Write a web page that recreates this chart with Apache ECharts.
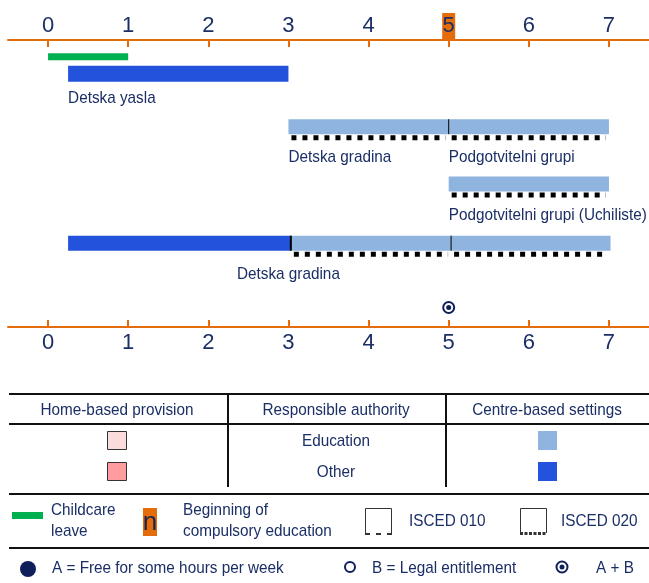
<!DOCTYPE html>
<html>
<head>
<meta charset="utf-8">
<script src="https://cdn.jsdelivr.net/npm/echarts@6/dist/echarts.min.js"></script>
<style>
  html, body { margin: 0; padding: 0; background: #fff; }
  #main { width: 649px; height: 583px; }
</style>
</head>
<body>
<div id="main"></div>
<script>
// ages on the axis
var ageTicks = [0, 1, 2, 3, 4, 5, 6, 7];
var compulsoryAge = 5;
var childcareLeave = [0, 1];

// settings (bars): row, from age, to age, authority, isced level
var segRow = [1, 2, 2, 3, 4, 4, 4];
var segStart = [0.25, 3, 5, 5, 0.25, 3.03, 5.03];
var segEnd = [3, 5, 7, 7, 3.03, 5.03, 7.02];
var segAuthority = ['Other', 'Education', 'Education', 'Education', 'Other', 'Education', 'Education'];
var segIsced = ['', '020', '020', '020', '', '020', '020'];

// names under the bars
var labelRow = [1, 2, 2, 3, 4];
var labelAge = [0.25, 3, 5, 5, 3];
var labelText = ['Detska yasla', 'Detska gradina', 'Podgotvitelni grupi', 'Podgotvitelni grupi (Uchiliste)', 'Detska gradina'];

// entitlement marker
var entitlementAge = [5];
var entitlementType = ['A+B'];

// layout only
var rowY = [0.29, 0.59, 1.51, 2.51, 3.54, 4.66]; // 0 = leave, 1..4 = rows, 5 = markers
var labelAlign = ['left', 'left', 'left', 'left', 'center'];

var FONT = "'Liberation Sans',Arial,sans-serif";
var NARROW = 0.9; // squeeze text, the original uses a narrow face
var NAVY = '#1b2f66';
var ORANGE = '#e46c0a';
var authColor = { Education: '#8eb4df', Other: '#2353dc' };

var myChart = echarts.init(document.getElementById('main'));

function axisLab(isTop) {
    return {
        customValues: ageTicks,
        margin: isTop ? 1 : 3,
        color: NAVY,
        fontFamily: FONT,
        fontSize: 22,
        lineHeight: 26,
        formatter: function (v) {
            return (isTop && v === compulsoryAge) ? '{c|' + v + '}' : String(v);
        },
        rich: {
            c: { backgroundColor: ORANGE, color: NAVY, fontFamily: FONT, fontSize: 22, height: 26, lineHeight: 26, width: 13, align: 'center' }
        }
    };
}

function makeAxis(pos) {
    return {
        type: 'value',
        position: pos,
        min: -0.5,
        max: 7.5,
        axisLine: { lineStyle: { color: ORANGE, width: 2 } },
        axisTick: { inside: true, length: 7, customValues: ageTicks, lineStyle: { color: ORANGE, width: 2 } },
        axisLabel: axisLab(pos === 'top'),
        splitLine: { show: false }
    };
}

var segData = segStart.map(function (s, i) { return [s, segEnd[i], rowY[segRow[i]]]; });
var labelData = labelAge.map(function (a, i) { return [a, rowY[labelRow[i]]]; });

// table + legend underneath
var g = [];
function hline(x1, x2, y, w) { g.push({ type: 'line', shape: { x1: x1, y1: y, x2: x2, y2: y }, style: { stroke: '#111', lineWidth: w || 2 } }); }
function vline(x, y1, y2) { g.push({ type: 'line', shape: { x1: x, y1: y1, x2: x, y2: y2 }, style: { stroke: '#111', lineWidth: 2 } }); }
function txt(t, x, y, align) {
    g.push({ type: 'text', x: x, y: y, scaleX: NARROW, style: { text: t, x: 0, y: 0, fill: NAVY, font: '17px ' + FONT, textAlign: align || 'left', textVerticalAlign: 'middle' } });
}
function box(x, y, w, h, fill, stroke) {
    g.push({ type: 'rect', shape: { x: x, y: y, width: w, height: h }, style: { fill: fill, stroke: stroke || null, lineWidth: 1 } });
}

hline(9, 649, 394); hline(9, 649, 424); hline(9, 649, 494); hline(9, 649, 548);
vline(228, 394, 487); vline(446, 394, 487);
txt('Home-based provision', 117, 410, 'center');
txt('Responsible authority', 336, 410, 'center');
txt('Centre-based settings', 547, 410, 'center');
txt('Education', 336, 441, 'center');
txt('Other', 336, 472, 'center');
box(107.5, 431.5, 19, 18, '#fadcdc', '#333');
box(107.5, 462.5, 19, 18, '#ff9ca0', '#333');
box(538, 431, 19, 19, authColor.Education);
box(538, 462, 19, 19, authColor.Other);

box(12, 512, 31, 7, '#00b050');
txt('Childcare', 51, 510); txt('leave', 51, 531);
box(143, 508, 14, 28, ORANGE);
g.push({ type: 'text', style: { text: 'n', x: 150, y: 523, fill: '#1a2550', font: '26px ' + FONT, textAlign: 'center', textVerticalAlign: 'middle' } });
txt('Beginning of', 183, 510); txt('compulsory education', 183, 531);
g.push({ type: 'polyline', shape: { points: [[365.5, 534], [365.5, 508.5], [391.5, 508.5], [391.5, 534]] }, style: { stroke: '#333', lineWidth: 1, fill: null } });
g.push({ type: 'line', shape: { x1: 365, y1: 534, x2: 392, y2: 534 }, style: { stroke: '#333', lineWidth: 2, lineDash: [5, 6] } });
txt('ISCED 010', 409, 521);
g.push({ type: 'polyline', shape: { points: [[520.5, 533], [520.5, 508.5], [546.5, 508.5], [546.5, 533]] }, style: { stroke: '#333', lineWidth: 1, fill: null } });
g.push({ type: 'line', shape: { x1: 520, y1: 533.5, x2: 547, y2: 533.5 }, style: { stroke: '#333', lineWidth: 3, lineDash: [3, 1.5] } });
txt('ISCED 020', 561, 521);

g.push({ type: 'circle', shape: { cx: 28, cy: 569, r: 8 }, style: { fill: '#0f1f5a' } });
txt('A = Free for some hours per week', 52, 568);
g.push({ type: 'circle', shape: { cx: 350, cy: 567, r: 5 }, style: { fill: '#fff', stroke: '#0f1f5a', lineWidth: 2 } });
txt('B = Legal entitlement', 372, 568);
g.push({ type: 'circle', shape: { cx: 562, cy: 567, r: 5.5 }, style: { fill: '#fff', stroke: '#0f1f5a', lineWidth: 2 } });
g.push({ type: 'circle', shape: { cx: 562, cy: 567, r: 2.5 }, style: { fill: '#0f1f5a' } });
txt('A + B', 596, 568);

var option = {
    animation: false,
    backgroundColor: '#fff',
    grid: { left: 8, top: 40, width: 642, height: 287 },
    xAxis: [makeAxis('top'), makeAxis('bottom')],
    yAxis: { type: 'value', inverse: true, min: 0, max: 5, show: false },
    series: [
        {
            // childcare leave
            type: 'custom',
            data: [[childcareLeave[0], childcareLeave[1], rowY[0]]],
            encode: { x: [0, 1], y: 2 },
            renderItem: function (params, api) {
                var a = api.coord([api.value(0), api.value(2)]);
                var b = api.coord([api.value(1), api.value(2)]);
                return { type: 'rect', shape: { x: a[0], y: a[1] - 3.5, width: b[0] - a[0], height: 7 }, style: { fill: '#00b050' } };
            }
        },
        {
            type: 'custom',
            data: segData,
            encode: { x: [0, 1], y: 2 },
            renderItem: function (params, api) {
                var i = params.dataIndex;
                var a = api.coord([api.value(0), api.value(2)]);
                var b = api.coord([api.value(1), api.value(2)]);
                var h = segRow[i] === 1 ? 16 : 15;
                var top = a[1] - h / 2;
                var ch = [{ type: 'rect', shape: { x: a[0], y: top, width: b[0] - a[0], height: h }, style: { fill: authColor[segAuthority[i]] } }];
                if (segIsced[i] === '020') {
                    ch.push({ type: 'line', shape: { x1: a[0] + 3, y1: top + h + 3.5, x2: b[0] - 3, y2: top + h + 3.5 }, style: { stroke: '#000', lineWidth: 5, lineDash: [5, 6] } });
                }
                if (i > 0 && segRow[i - 1] === segRow[i] && Math.abs(segEnd[i - 1] - segStart[i]) < 0.01) {
                    var w = segAuthority[i - 1] !== segAuthority[i] ? 2 : 1;
                    ch.push({ type: 'line', shape: { x1: a[0], y1: top, x2: a[0], y2: top + h }, style: { stroke: '#000', lineWidth: w } });
                }
                return { type: 'group', children: ch };
            }
        },
        {
            type: 'custom',
            data: labelData,
            encode: { x: 0, y: 1 },
            renderItem: function (params, api) {
                var i = params.dataIndex;
                var p = api.coord([api.value(0), api.value(1)]);
                var dy = labelRow[i] === 1 ? 24 : 31;
                return { type: 'text', x: p[0], y: p[1] + dy, scaleX: NARROW, style: { text: labelText[i], x: 0, y: 0, fill: NAVY, font: '17px ' + FONT, textAlign: labelAlign[i], textVerticalAlign: 'middle' } };
            }
        },
        {
            type: 'custom',
            data: entitlementAge.map(function (a) { return [a, rowY[5]]; }),
            encode: { x: 0, y: 1 },
            renderItem: function (params, api) {
                var p = api.coord([api.value(0), api.value(1)]);
                var ch = [{ type: 'circle', shape: { cx: p[0], cy: p[1], r: 5.5 }, style: { fill: '#fff', stroke: '#0f1f5a', lineWidth: 2 } }];
                if (entitlementType[params.dataIndex] === 'A+B') {
                    ch.push({ type: 'circle', shape: { cx: p[0], cy: p[1], r: 2.5 }, style: { fill: '#0f1f5a' } });
                }
                return { type: 'group', children: ch };
            }
        }
    ],
    graphic: g
};
myChart.setOption(option);
</script>
</body>
</html>
